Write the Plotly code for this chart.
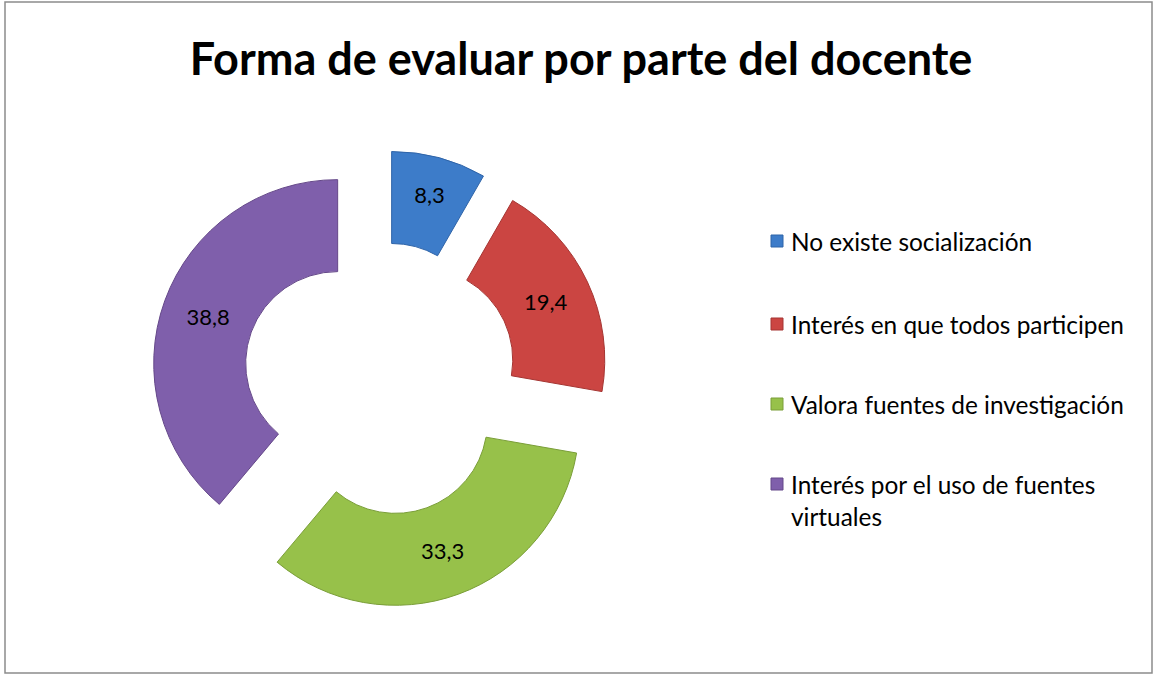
import plotly.graph_objects as go

# datos
categorias = ["No existe socialización", "Interés en que todos participen",
              "Valora fuentes de investigación", "Interés por el uso de fuentes virtuales"]
valores = [8.3, 19.4, 33.3, 38.8]
etiquetas = ["8,3", "19,4", "33,3", "38,8"]
leyenda = ["No existe socialización", "Interés en que todos participen",
           "Valora fuentes de investigación", "Interés por el uso de fuentes<br>virtuales"]

colores = ["#3D7CC9", "#CB4542", "#97C14A", "#7F5FAB"]
bordes = ["#2F64A8", "#A53532", "#7A9E38", "#654889"]

W, H = 1155, 675
FONT = "Lato"


def px_x(x):
    return x / W


def px_y(y):
    return 1 - y / H


fig = go.Figure()
fig.add_trace(go.Pie(
    labels=categorias, values=valores, text=etiquetas,
    textinfo="text", textposition="inside", insidetextorientation="horizontal",
    textfont=dict(family=FONT, size=22, color="black"),
    hole=0.5, pull=[0.245] * 4, sort=False, direction="clockwise", rotation=0,
    marker=dict(colors=colores, line=dict(color=bordes, width=1)),
    domain=dict(x=[px_x(151), px_x(609)], y=[px_y(608), px_y(150)]),
    showlegend=False, hoverinfo="label+value",
))

# leyenda dibujada a mano para respetar el espaciado del original
ys = [241, 324, 404, 484]
for i, (txt, y) in enumerate(zip(leyenda, ys)):
    fig.add_shape(type="rect", xref="paper", yref="paper",
                  x0=px_x(771), x1=px_x(783), y0=px_y(y + 6), y1=px_y(y - 6),
                  fillcolor=colores[i], line=dict(color=bordes[i], width=1))
    fig.add_annotation(x=px_x(789), y=px_y(y - 16), xref="paper", yref="paper",
                       xanchor="left", yanchor="top", align="left", showarrow=False,
                       text=txt, font=dict(family=FONT, size=24.4, color="black"))

# borde del área del gráfico
fig.add_shape(type="rect", xref="paper", yref="paper",
              x0=px_x(5), x1=px_x(1152), y0=px_y(673), y1=px_y(2),
              line=dict(color="#8C8C8C", width=1.5), fillcolor="rgba(0,0,0,0)")

fig.update_layout(
    width=W, height=H,
    margin=dict(l=0, r=0, t=0, b=0),
    paper_bgcolor="white", plot_bgcolor="white",
    title=dict(text="<b>Forma de evaluar por parte del docente</b>",
               x=px_x(581), xanchor="center", y=px_y(59), yanchor="middle",
               font=dict(family=FONT, size=45, color="black")),
)

# quitar el margen por defecto del body para que el gráfico ocupe toda la ventana
fig.write_html("out.html", config={"displayModeBar": False},
               post_script="document.body.style.margin='0';")
